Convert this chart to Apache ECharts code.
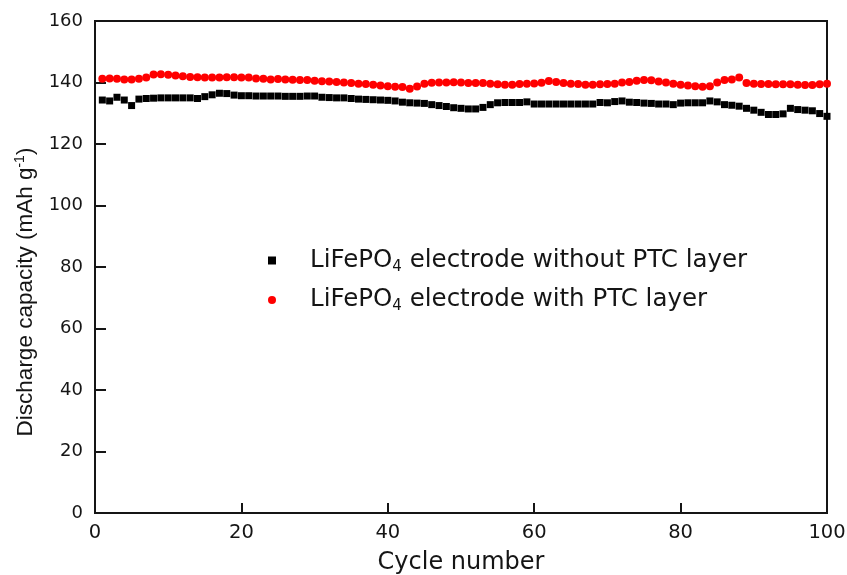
<!DOCTYPE html>
<html>
<head>
<meta charset="utf-8">
<script src="https://cdn.jsdelivr.net/npm/echarts@6/dist/echarts.min.js"></script>
<style>
  html, body { margin: 0; padding: 0; background: #fff; }
  #app { width: 847px; height: 575px; }
</style>
</head>
<body>
<div id="app"></div>
<script>
const cycles = [
  1, 2, 3, 4, 5, 6, 7, 8, 9, 10, 11, 12, 13, 14, 15, 16, 17, 18, 19, 20,
  21, 22, 23, 24, 25, 26, 27, 28, 29, 30, 31, 32, 33, 34, 35, 36, 37, 38, 39, 40,
  41, 42, 43, 44, 45, 46, 47, 48, 49, 50, 51, 52, 53, 54, 55, 56, 57, 58, 59, 60,
  61, 62, 63, 64, 65, 66, 67, 68, 69, 70, 71, 72, 73, 74, 75, 76, 77, 78, 79, 80,
  81, 82, 83, 84, 85, 86, 87, 88, 89, 90, 91, 92, 93, 94, 95, 96, 97, 98, 99, 100
]

// without PTC layer (black squares)
const withoutPTC = [
  134.3, 134.0, 135.2, 134.3, 132.5, 134.6, 134.8, 134.9, 135.0, 135.0,
  135.0, 135.0, 135.0, 134.8, 135.4, 136.0, 136.5, 136.4, 135.9, 135.7,
  135.7, 135.6, 135.6, 135.6, 135.6, 135.5, 135.5, 135.5, 135.6, 135.6,
  135.2, 135.1, 135.0, 135.0, 134.8, 134.6, 134.5, 134.4, 134.3, 134.2,
  134.0, 133.6, 133.4, 133.3, 133.2, 132.8, 132.5, 132.2, 131.8, 131.6,
  131.4, 131.4, 131.9, 132.8, 133.4, 133.5, 133.5, 133.5, 133.7, 133.0,
  133.0, 133.0, 133.0, 133.0, 133.0, 133.0, 133.0, 133.0, 133.5, 133.4,
  133.8, 134.0, 133.6, 133.5, 133.3, 133.2, 133.0, 133.0, 132.8, 133.3,
  133.4, 133.4, 133.4, 134.0, 133.7, 132.8, 132.6, 132.3, 131.6, 131.0,
  130.3, 129.6, 129.6, 129.8, 131.6, 131.2, 131.0, 130.8, 129.9, 129.0
]

// with PTC layer (red circles)
const withPTC = [
  141.2, 141.3, 141.2, 141.0, 141.0, 141.2, 141.6, 142.6, 142.7, 142.5,
  142.3, 142.0, 141.8, 141.7, 141.6, 141.6, 141.6, 141.7, 141.7, 141.6,
  141.6, 141.3, 141.2, 141.0, 141.1, 141.0, 140.9, 140.8, 140.8, 140.6,
  140.4, 140.3, 140.2, 140.0, 139.8, 139.6, 139.5, 139.3, 139.0, 138.8,
  138.6, 138.5, 138.0, 138.7, 139.6, 139.9, 140.0, 140.0, 140.1, 140.0,
  139.8, 139.8, 139.8, 139.6, 139.4, 139.3, 139.3, 139.5, 139.6, 139.7,
  139.9, 140.5, 140.2, 139.8, 139.6, 139.5, 139.3, 139.3, 139.4, 139.5,
  139.6, 140.0, 140.2, 140.6, 140.8, 140.7, 140.3, 140.0, 139.6, 139.3,
  139.0, 138.8, 138.6, 138.8, 140.0, 140.8, 141.0, 141.6, 139.8, 139.6,
  139.5, 139.5, 139.4, 139.4, 139.4, 139.3, 139.2, 139.2, 139.4, 139.6
]

const seriesNames = ['without', 'with']
const xTicks = { min: 0, max: 100, interval: 20 }
const yTicks = { min: 0, max: 160, interval: 20 }

// the source figure is stretched sideways, so the wider DejaVu face fits its text boxes best
const wide = 'DejaVu Sans, Liberation Sans, sans-serif'
const narrow = 'Liberation Sans, Arial, sans-serif'
const ink = '#151515'

const echart = echarts.init(document.getElementById('app'))
const pairs = vals => cycles.map((c, i) => [c, vals[i]])

echart.setOption({
  animation: false,
  backgroundColor: '#fff',
  grid: {
    left: 95,
    right: 20,
    top: 21,
    bottom: 62,
    outerBoundsMode: 'none',
    containLabel: false,
    show: true,
    borderColor: ink,
    borderWidth: 2
  },
  legend: {
    orient: 'vertical',
    left: 263,
    top: 243,
    itemGap: 13,
    itemWidth: 8,
    itemHeight: 8,
    data: [
      { name: seriesNames[0], icon: 'rect', itemStyle: { color: '#000' } },
      { name: seriesNames[1], icon: 'circle', itemStyle: { color: '#f00' } }
    ],
    formatter(name) {
      const tail = name === 'with' ? ' electrode with PTC layer' : ' electrode without PTC layer'
      return `{t|LiFePO}{sub|4}{t|${tail}}`
    },
    textStyle: {
      padding: [0, 0, 0, 29],
      rich: {
        t: { fontFamily: wide, fontSize: 24.5, color: ink, lineHeight: 28, verticalAlign: 'middle' },
        sub: { fontFamily: wide, fontSize: 15, color: ink, lineHeight: 28, verticalAlign: 'bottom' }
      }
    }
  },
  xAxis: {
    type: 'value',
    min: xTicks.min,
    max: xTicks.max,
    interval: xTicks.interval,
    name: 'Cycle number',
    nameLocation: 'middle',
    nameGap: 38,
    nameTextStyle: { fontFamily: wide, fontSize: 24, color: ink },
    axisLine: { lineStyle: { color: ink, width: 2 } },
    axisTick: { inside: true, length: 10, lineStyle: { color: ink, width: 2 } },
    axisLabel: { fontFamily: wide, fontSize: 19.5, color: ink, margin: 10 },
    splitLine: { show: false }
  },
  yAxis: {
    type: 'value',
    min: yTicks.min,
    max: yTicks.max,
    interval: yTicks.interval,
    name: '{a|Discharge capacity (mAh g}{s|-1}{a|)}',
    nameLocation: 'middle',
    nameGap: 55,
    nameTextStyle: {
      padding: [0, 50, 0, 0],
      rich: {
        a: { fontFamily: narrow, fontSize: 22.5, color: ink, lineHeight: 26, verticalAlign: 'middle' },
        s: { fontFamily: narrow, fontSize: 14, color: ink, lineHeight: 26, verticalAlign: 'top' }
      }
    },
    axisLine: { lineStyle: { color: ink, width: 2 } },
    // negative length turns the ticks towards the plot
    axisTick: { inside: false, length: -11, lineStyle: { color: ink, width: 2 } },
    axisLabel: { fontFamily: wide, fontSize: 18, color: ink, margin: 12 },
    splitLine: { show: false }
  },
  series: [
    {
      name: seriesNames[0],
      type: 'scatter',
      symbol: 'rect',
      symbolSize: 7,
      itemStyle: { color: '#000', opacity: 1 },
      data: pairs(withoutPTC)
    },
    {
      name: seriesNames[1],
      type: 'scatter',
      symbol: 'circle',
      symbolSize: 8,
      itemStyle: { color: '#f00', opacity: 1 },
      data: pairs(withPTC)
    }
  ]
})
</script>
</body>
</html>
